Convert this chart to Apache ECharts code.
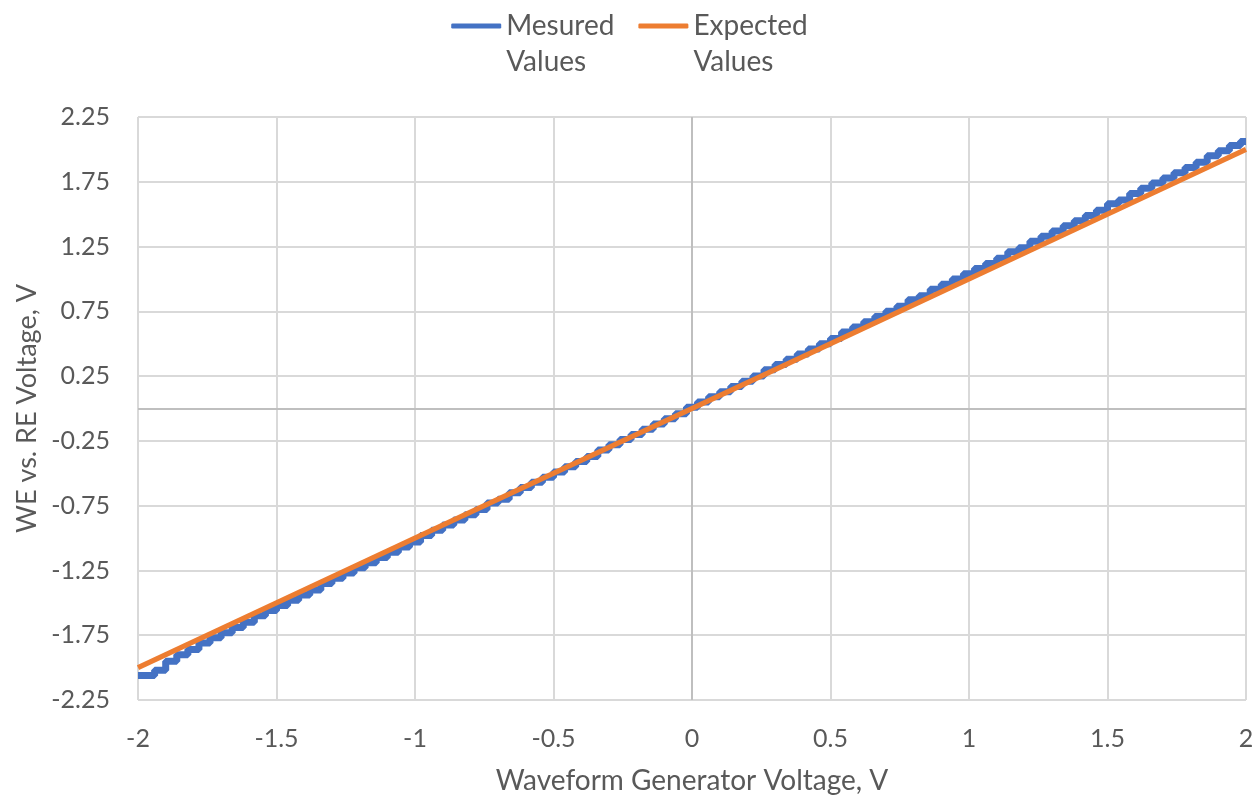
<!DOCTYPE html>
<html>
<head>
<meta charset="utf-8">
<script src="https://cdn.jsdelivr.net/npm/echarts@6/dist/echarts.min.js"></script>
<style>
  html, body { margin: 0; padding: 0; background: #ffffff; }
  #chart { width: 1259px; height: 800px; }
</style>
</head>
<body>
<div id="chart"></div>
<script>
// Waveform generator setpoint (V) for each recorded sample
var generatorVoltage = [
  -2.00, -1.96, -1.92, -1.88, -1.84, -1.80, -1.76, -1.72, -1.68, -1.64,
  -1.60, -1.56, -1.52, -1.48, -1.44, -1.40, -1.36, -1.32, -1.28, -1.24,
  -1.20, -1.16, -1.12, -1.08, -1.04, -1.00, -0.96, -0.92, -0.88, -0.84,
  -0.80, -0.76, -0.72, -0.68, -0.64, -0.60, -0.56, -0.52, -0.48, -0.44,
  -0.40, -0.36, -0.32, -0.28, -0.24, -0.20, -0.16, -0.12, -0.08, -0.04,
   0.00,  0.04,  0.08,  0.12,  0.16,  0.20,  0.24,  0.28,  0.32,  0.36,
   0.40,  0.44,  0.48,  0.52,  0.56,  0.60,  0.64,  0.68,  0.72,  0.76,
   0.80,  0.84,  0.88,  0.92,  0.96,  1.00,  1.04,  1.08,  1.12,  1.16,
   1.20,  1.24,  1.28,  1.32,  1.36,  1.40,  1.44,  1.48,  1.52,  1.56,
   1.60,  1.64,  1.68,  1.72,  1.76,  1.80,  1.84,  1.88,  1.92,  1.96,
   2.00
];

// Measured WE vs. RE voltage (V), quantised by the ADC
var measuredVoltage = [
  -2.06, -2.06, -2.02, -1.95, -1.90, -1.86, -1.81, -1.77, -1.73, -1.69,
  -1.65, -1.60, -1.56, -1.52, -1.48, -1.44, -1.40, -1.35, -1.31, -1.27,
  -1.23, -1.19, -1.15, -1.11, -1.07, -1.03, -0.98, -0.94, -0.90, -0.86,
  -0.82, -0.78, -0.73, -0.70, -0.65, -0.61, -0.57, -0.53, -0.49, -0.45,
  -0.41, -0.37, -0.32, -0.28, -0.24, -0.20, -0.16, -0.12, -0.08, -0.04,
   0.01,  0.05,  0.09,  0.13,  0.17,  0.21,  0.25,  0.30,  0.34,  0.38,
   0.42,  0.46,  0.50,  0.54,  0.59,  0.63,  0.67,  0.71,  0.75,  0.79,
   0.84,  0.87,  0.92,  0.96,  1.00,  1.04,  1.08,  1.12,  1.16,  1.21,
   1.24,  1.29,  1.33,  1.37,  1.41,  1.45,  1.49,  1.53,  1.58,  1.61,
   1.66,  1.70,  1.74,  1.78,  1.82,  1.86,  1.90,  1.95,  1.99,  2.03,
   2.06
];

// Ideal response: output equals the generator voltage
var expectedX = [-2, 2];
var expectedY = [-2, 2];

var xTicks = [-2, -1.5, -1, -0.5, 0, 0.5, 1, 1.5, 2];
var yTicks = [-2.25, -1.75, -1.25, -0.75, -0.25, 0.25, 0.75, 1.25, 1.75, 2.25];

var seriesNames = ['Mesured\nValues', 'Expected\nValues'];

function pairs(xs, ys) {
  return xs.map(function (x, i) { return [x, ys[i]]; });
}

var FONT = 'Lato';
var TEXT = '#595959';
var GRID = '#d9d9d9';

var chart = echarts.init(document.getElementById('chart'), null, { renderer: 'canvas' });

chart.setOption({
  backgroundColor: '#ffffff',
  animation: false,
  legend: {
    data: seriesNames,
    top: -33,
    left: 'center',
    itemWidth: 50,
    itemHeight: 5,
    itemGap: 24,
    icon: 'roundRect',
    // leading blank line keeps the key line level with the first text line
    formatter: function (name) { return '\n' + name; },
    textStyle: {
      fontFamily: FONT,
      fontSize: 28,
      color: TEXT,
      lineHeight: 36
    }
  },
  grid: {
    left: 138,
    right: 13,
    top: 117,
    bottom: 99,
    containLabel: false
  },
  xAxis: {
    type: 'value',
    min: xTicks[0],
    max: xTicks[xTicks.length - 1],
    interval: 0.5,
    name: 'Waveform Generator Voltage, V',
    nameLocation: 'middle',
    nameGap: 67,
    nameTextStyle: { fontFamily: FONT, fontSize: 28, color: TEXT },
    axisLine: { show: false },
    axisTick: { show: false },
    axisLabel: { fontFamily: FONT, fontSize: 25, color: TEXT, margin: 26 },
    splitLine: { show: true, lineStyle: { color: GRID, width: 2 } }
  },
  yAxis: {
    type: 'value',
    min: yTicks[0],
    max: yTicks[yTicks.length - 1],
    interval: 0.5,
    name: 'WE vs. RE Voltage, V',
    nameLocation: 'middle',
    nameGap: 96,
    nameTextStyle: { fontFamily: FONT, fontSize: 27, color: TEXT },
    axisLine: { show: false },
    axisTick: { show: false },
    axisLabel: { fontFamily: FONT, fontSize: 25, color: TEXT, margin: 28 },
    splitLine: { show: true, lineStyle: { color: GRID, width: 2 } }
  },
  series: [
    {
      name: seriesNames[0],
      type: 'line',
      data: pairs(generatorVoltage, measuredVoltage),
      step: 'middle',
      showSymbol: false,
      symbol: 'none',
      itemStyle: { color: '#4472c4' },
      lineStyle: { color: '#4472c4', width: 7 },
      z: 3,
      markLine: {
        silent: true,
        symbol: 'none',
        label: { show: false },
        lineStyle: { color: '#bfbfbf', width: 2, type: 'solid' },
        data: [{ xAxis: 0 }, { yAxis: 0 }],
        z: 1
      }
    },
    {
      name: seriesNames[1],
      type: 'line',
      data: pairs(expectedX, expectedY),
      showSymbol: false,
      symbol: 'none',
      itemStyle: { color: '#ed7d31' },
      lineStyle: { color: '#ed7d31', width: 5 },
      z: 4
    }
  ]
});
</script>
</body>
</html>
